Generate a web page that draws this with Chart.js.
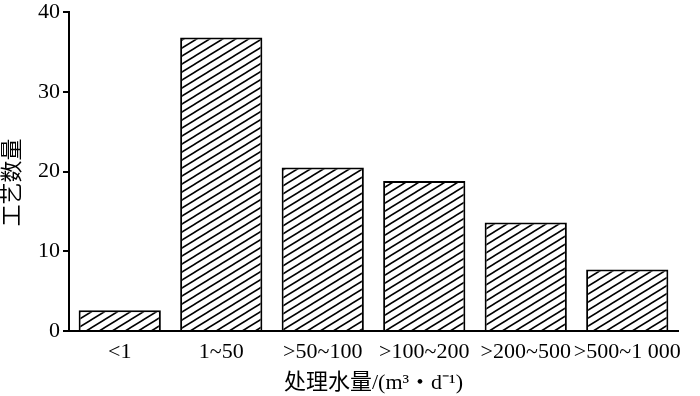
<!DOCTYPE html>
<html>
<head>
<meta charset="utf-8">
<script src="https://cdn.jsdelivr.net/npm/chart.js@4.4.1/dist/chart.umd.min.js"></script>
<style>
  html, body { margin: 0; padding: 0; background: #fff; }
  #wrap { width: 700px; height: 396px; }
</style>
</head>
<body>
<div id="wrap"><canvas id="chart"></canvas></div>
<script>
const categories = ["<1", "1~50", ">50~100", ">100~200", ">200~500", ">500~1 000"];
const processCounts = [2.6, 36.8, 20.5, 18.8, 13.6, 7.7];
const yTicks = [0, 10, 20, 30, 40];

const serif = "'Liberation Serif', 'Times New Roman', 'Noto Sans CJK SC', serif";

// diagonal hatch fill
function makeHatch() {
    const w = 13, h = 8;
    const c = document.createElement("canvas");
    c.width = w;
    c.height = h;
    const g = c.getContext("2d");
    g.fillStyle = "#fff";
    g.fillRect(0, 0, w, h);
    g.strokeStyle = "#000";
    g.lineWidth = 1.6;
    for (let k = -1; k <= 1; k++) {
        g.beginPath();
        g.moveTo(-w, 2 * h + k * h);
        g.lineTo(2 * w, -h + k * h);
        g.stroke();
    }
    return g.createPattern(c, "repeat");
}

const ctx = document.getElementById("chart").getContext("2d");
new Chart(ctx, {
    type: "bar",
    data: {
        labels: categories,
        datasets: [{
            data: processCounts,
            backgroundColor: makeHatch(),
            borderColor: "#000",
            borderWidth: 2,
            barPercentage: 0.81,
            categoryPercentage: 1.0
        }]
    },
    options: {
        responsive: true,
        maintainAspectRatio: false,
        animation: false,
        layout: { padding: { top: 0, right: 22, left: 0, bottom: 0 } },
        plugins: {
            legend: { display: false },
            tooltip: { enabled: false }
        },
        scales: {
            x: {
                grid: { display: false, drawTicks: false },
                border: { display: true, color: "#000", width: 2 },
                ticks: {
                    color: "#000",
                    padding: 8,
                    maxRotation: 0,
                    autoSkip: false,
                    font: { family: serif, size: 22 }
                },
                title: {
                    display: true,
                    text: "处理水量/(m³・d⁻¹)",
                    color: "#000",
                    padding: { top: 0, bottom: 0 },
                    font: { family: serif, size: 22 }
                },
                afterFit: (scale) => { scale.height = 65; }
            },
            y: {
                min: 0,
                max: 40,
                afterBuildTicks: (scale) => { scale.ticks = yTicks.map(v => ({ value: v })); },
                grid: { drawOnChartArea: false, drawTicks: true, tickLength: 6, color: "#000", lineWidth: 2 },
                border: { display: true, color: "#000", width: 2 },
                ticks: {
                    color: "#000",
                    padding: 3,
                    font: { family: serif, size: 22 }
                },
                title: {
                    display: true,
                    text: "工艺数量　",
                    color: "#000",
                    padding: { top: 0, bottom: 0 },
                    font: { family: serif, size: 22 }
                },
                afterFit: (scale) => {
                    scale.width = 69;
                    scale.paddingTop = 12;
                    scale.paddingBottom = 0;
                }
            }
        }
    }
});
</script>
</body>
</html>
